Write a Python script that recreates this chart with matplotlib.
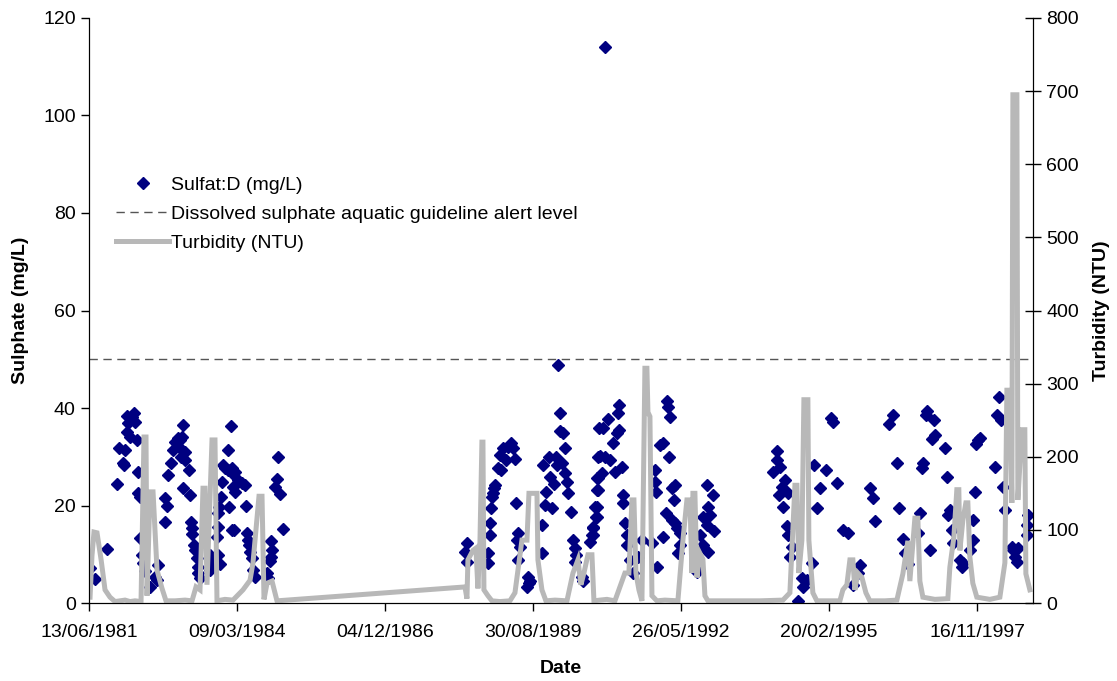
import numpy as np
import pandas as pd
import matplotlib
matplotlib.use("Agg")
import matplotlib.pyplot as plt

plt.rcParams["font.family"] = ["Liberation Sans", "DejaVu Sans"]

# Sulphate samples: decimal year, mg/L
sulf_year = [
    1981.464, 1981.557, 1981.779, 1981.964, 1982.001, 1982.112, 1982.075, 1982.093,
    1982.149, 1982.241, 1982.278, 1982.167, 1982.297, 1982.149, 1982.204, 1982.334,
    1982.352, 1982.352, 1982.389, 1982.389, 1982.426, 1982.445, 1982.574, 1982.667,
    1982.722, 1982.704, 1982.482,
    1982.852, 1982.889, 1982.852, 1982.907, 1982.963, 1983.000, 1983.037, 1983.092,
    1983.129, 1983.166, 1983.185, 1983.129, 1983.222, 1983.148, 1983.222, 1983.296,
    1983.185, 1983.314, 1983.332, 1983.351, 1983.351, 1983.388, 1983.406, 1983.443,
    1983.462, 1983.462, 1983.499, 1983.684, 1983.721, 1983.684,
    1984.072, 1984.017, 1983.924, 1983.961, 1984.017, 1984.091, 1983.906, 1984.109,
    1983.887, 1983.850, 1984.035, 1983.832, 1984.091, 1983.832, 1983.813, 1984.091,
    1984.146, 1984.202, 1984.276, 1984.331, 1984.146, 1984.350, 1984.128, 1984.368,
    1984.387, 1984.405, 1984.424, 1984.461, 1984.479, 1984.516, 1984.942, 1984.923,
    1984.886, 1984.979, 1985.034, 1984.812, 1984.831, 1984.812, 1984.794, 1984.738,
    1984.757, 1983.832, 1983.869,
    1988.437, 1988.400, 1988.437, 1988.826, 1988.826, 1988.862, 1988.862, 1988.881,
    1988.899, 1988.918, 1988.936, 1988.955, 1989.010, 1989.066, 1989.047, 1989.103,
    1989.158, 1989.195, 1989.251, 1989.288, 1989.325, 1989.343, 1989.362, 1989.380,
    1989.417, 1989.380, 1989.566, 1989.584, 1989.547, 1989.603, 1989.824, 1989.824,
    1989.843, 1989.898, 1989.880, 1989.954, 1990.009, 1990.046, 1989.972, 1990.083,
    1990.102, 1990.194, 1990.250, 1990.250, 1990.287, 1990.305, 1990.361, 1990.157,
    1990.157, 1990.213, 1990.120, 1990.398, 1990.435, 1990.453, 1990.435, 1990.564,
    1990.583, 1990.712, 1990.749, 1990.768, 1990.823, 1990.842, 1990.842, 1990.842,
    1990.860, 1990.879, 1990.989,
    1991.248, 1991.230, 1991.045, 1990.953, 1991.248, 1991.211, 1991.137, 1990.897,
    1990.989, 1991.082, 1991.174, 1991.304, 1990.934, 1990.860, 1990.860, 1991.322,
    1991.322, 1990.805, 1990.842, 1990.768, 1990.768, 1991.359, 1991.396, 1991.396,
    1991.674, 1991.600, 1991.507, 1991.452, 1991.951, 1991.859, 1992.062, 1992.136,
    1992.155, 1992.192, 1992.007, 1992.062, 1992.173, 1991.914, 1991.914, 1991.933,
    1992.229, 1992.284, 1992.266, 1992.118, 1992.229, 1992.284, 1992.321, 1992.377,
    1992.377, 1992.340, 1992.747, 1992.876, 1992.987, 1992.894, 1992.802, 1992.932,
    1992.876, 1993.006, 1992.802, 1992.747, 1992.894, 1992.691, 1992.691,
    1994.171, 1994.171, 1994.226, 1994.097, 1994.319, 1994.263, 1994.374, 1994.208,
    1994.282, 1994.356, 1994.374, 1994.448, 1994.411, 1994.633, 1994.726, 1994.652,
    1994.559, 1994.818, 1994.855, 1995.077, 1994.966, 1994.910, 1995.170, 1995.207,
    1995.281, 1995.391, 1995.484, 1995.706, 1995.669, 1995.576, 1995.891, 1995.946,
    1995.983, 1996.242,
    1996.316, 1996.390, 1996.427, 1996.501, 1996.538, 1996.593, 1996.945, 1996.926,
    1997.074, 1997.093, 1997.037, 1997.278, 1996.871, 1996.852, 1997.315, 1996.815,
    1996.778, 1997.000, 1997.370, 1997.333, 1997.407, 1997.426, 1997.555, 1997.610,
    1997.592, 1997.833, 1997.888, 1997.925, 1997.851, 1997.795, 1997.795, 1997.740,
    1998.276, 1998.239, 1998.313, 1998.202, 1998.350, 1998.388, 1998.536, 1998.573,
    1998.610, 1998.517, 1998.628, 1998.813, 1998.794, 1998.794,
]
sulf_mgl = [
    7.2, 4.9, 11.0, 24.4, 31.8, 31.4, 28.7, 28.3,
    38.4, 38.2, 39.0, 36.9, 37.1, 35.1, 34.0, 33.4,
    26.9, 22.6, 21.7, 13.3, 9.8, 8.2, 3.3, 5.3,
    7.8, 4.7, 6.5,
    21.5, 19.9, 16.6, 26.3, 28.7, 31.4, 33.0, 33.8,
    33.4, 34.0, 36.5, 31.8, 31.0, 29.9, 29.3, 27.3,
    23.6, 22.2, 16.6, 15.4, 14.2, 11.9, 10.9, 9.2,
    7.4, 6.2, 5.1, 9.8, 8.2, 6.8,
    36.3, 31.4, 28.3, 27.7, 27.3, 26.7, 24.8, 23.8,
    21.7, 19.7, 19.7, 18.5, 15.0, 15.6, 13.5, 27.7,
    26.9, 25.2, 24.6, 24.2, 22.8, 19.9, 15.0, 14.4,
    12.9, 11.9, 10.5, 9.2, 6.8, 5.3, 29.9, 25.4,
    23.8, 22.4, 15.2, 12.7, 10.9, 9.4, 8.6, 6.2,
    5.1, 9.8, 8.0,
    12.3, 10.5, 8.4, 10.3, 8.2, 13.9, 16.4, 19.5,
    21.7, 22.6, 23.6, 24.2, 27.7, 27.3, 30.4, 31.8,
    29.3, 32.0, 32.8, 31.8, 29.5, 20.5, 12.9, 14.4,
    11.5, 8.8, 5.3, 4.1, 3.3, 4.6, 10.3, 16.0,
    28.3, 22.8, 20.1, 29.9, 19.5, 24.4, 25.8, 29.9,
    28.3, 28.7, 31.8, 26.7, 24.8, 22.6, 18.7, 39.0,
    35.3, 34.9, 48.8, 12.9, 11.3, 9.8, 8.4, 5.3,
    4.6, 12.5, 13.9, 15.4, 17.6, 19.7, 23.2, 25.6,
    29.9, 35.9, 114.0,
    40.6, 39.0, 37.7, 35.9, 35.5, 34.9, 32.8, 30.2,
    29.9, 29.3, 26.9, 27.9, 26.7, 25.6, 23.2, 22.2,
    20.5, 19.7, 17.6, 15.6, 13.9, 16.4, 13.9, 11.9,
    12.9, 9.4, 6.2, 8.8, 7.4, 12.3, 13.5, 41.4,
    40.2, 38.2, 32.4, 32.8, 29.9, 27.3, 24.8, 22.8,
    23.6, 24.2, 21.1, 18.5, 17.0, 16.4, 15.4, 14.4,
    11.9, 10.3, 13.9, 24.2, 22.2, 19.7, 17.6, 18.0,
    16.0, 14.8, 11.9, 11.3, 10.5, 7.4, 6.4,
    31.2, 29.3, 27.9, 26.9, 25.2, 23.8, 22.6, 22.2,
    19.7, 15.8, 13.9, 11.5, 9.4, 5.1, 4.7, 3.3,
    0.4, 8.2, 28.3, 27.3, 23.6, 19.5, 37.9, 37.1,
    24.6, 15.0, 14.4, 7.8, 6.2, 3.7, 23.6, 21.5,
    16.8, 36.7,
    38.6, 28.7, 19.5, 13.1, 10.3, 8.0, 39.4, 38.6,
    37.5, 34.5, 33.6, 31.8, 28.7, 27.7, 25.8, 18.5,
    14.4, 10.9, 19.1, 18.0, 15.0, 12.3, 8.8, 8.2,
    7.4, 22.8, 33.4, 33.8, 32.6, 17.0, 12.9, 10.9,
    42.3, 38.6, 37.5, 27.9, 23.8, 19.1, 10.9, 9.4,
    8.4, 11.5, 11.2, 18.0, 13.9, 16.0,
]

# Turbidity series: decimal year, NTU
turb_year = [
    1981.465, 1981.501, 1981.538, 1981.594, 1981.668, 1981.742, 1981.834, 1981.927,
    1982.019, 1982.112, 1982.204, 1982.297, 1982.408, 1982.463, 1982.500, 1982.519,
    1982.574, 1982.630, 1982.704, 1982.796, 1982.870, 1983.037, 1983.222, 1983.351,
    1983.425, 1983.499, 1983.554, 1983.591, 1983.628, 1983.721, 1983.776, 1983.813,
    1983.961, 1984.109, 1984.294, 1984.424, 1984.479, 1984.590, 1984.646, 1984.683,
    1984.738, 1984.831, 1984.923,
    1988.400, 1988.437, 1988.455, 1988.548, 1988.603, 1988.640, 1988.677, 1988.714,
    1988.733, 1988.751, 1988.825, 1988.899, 1989.047, 1989.232, 1989.325, 1989.380,
    1989.454, 1989.547, 1989.584, 1989.732, 1989.750, 1989.824, 1989.898, 1990.065,
    1990.287, 1990.398, 1990.490, 1990.545, 1990.601, 1990.675, 1990.749, 1990.786,
    1990.897, 1991.026, 1991.174, 1991.359, 1991.433, 1991.489, 1991.526, 1991.563,
    1991.618, 1991.674, 1991.729, 1991.766, 1991.785, 1991.822, 1991.859, 1991.951,
    1992.099, 1992.339, 1992.432, 1992.506, 1992.562, 1992.599, 1992.617, 1992.654,
    1992.691, 1992.747, 1992.802, 1992.839, 1992.894, 1993.116, 1993.486, 1993.856,
    1994.282, 1994.411, 1994.504, 1994.541, 1994.577, 1994.633, 1994.670, 1994.744,
    1994.762, 1994.836, 1994.910, 1995.151, 1995.336, 1995.391, 1995.465, 1995.521,
    1995.576, 1995.613, 1995.669, 1995.743, 1995.817, 1995.890, 1996.168, 1996.390,
    1996.501, 1996.593, 1996.630, 1996.723, 1996.778, 1996.815, 1996.871, 1997.093,
    1997.333, 1997.370, 1997.444, 1997.499, 1997.536, 1997.555, 1997.610, 1997.666,
    1997.703, 1997.740, 1997.795, 1997.869, 1998.110, 1998.295, 1998.388, 1998.425,
    1998.480, 1998.517, 1998.536, 1998.610, 1998.628, 1998.702, 1998.757, 1998.776,
    1998.850,
]
turb_ntu = [
    8, 65, 97, 96, 60, 18, 8, 2,
    3, 4, 2, 3, 2, 227, 227, 10,
    152, 152, 45, 20, 3, 3, 4, 3,
    22, 18, 157, 157, 25, 223, 223, 3,
    5, 4, 18, 31, 55, 146, 146, 5,
    27, 30, 3,
    22, 6, 59, 72, 75, 20, 82, 220,
    220, 18, 10, 3, 2, 3, 14, 45,
    86, 86, 150, 150, 59, 18, 3, 4,
    3, 41, 59, 25, 41, 66, 66, 3,
    4, 5, 3, 41, 41, 141, 141, 41,
    18, 3, 321, 321, 261, 255, 10, 3,
    4, 3, 86, 141, 141, 41, 150, 150,
    35, 68, 60, 10, 3, 3, 3, 3,
    4, 14, 161, 161, 41, 86, 278, 278,
    86, 14, 3, 3, 3, 18, 25, 59,
    59, 18, 41, 35, 14, 3, 3, 4,
    40, 85, 30, 116, 116, 30, 8, 5,
    6, 49, 90, 155, 155, 72, 113, 137,
    137, 63, 27, 8, 5, 8, 55, 291,
    291, 137, 695, 695, 141, 237, 237, 40,
    18,
]

guideline = 50  # mg/L alert level

start = pd.Timestamp("1981-06-13")
start_dec = 1981.446


def to_days(years):
    return (np.asarray(years) - start_dec) * 365.25


fig = plt.figure(figsize=(11.17, 6.81), dpi=100)
ax = fig.add_axes([0.0797, 0.1145, 0.8451, 0.8591])
ax2 = ax.twinx()

sc, = ax.plot(to_days(sulf_year), sulf_mgl, linestyle="none", marker="D",
              markersize=6, color="#000080", label="Sulfat:D (mg/L)")
gl = ax.axhline(guideline, color="#555555", linestyle=(0, (6, 4)), linewidth=1,
                label="Dissolved sulphate aquatic guideline alert level")
tl, = ax2.plot(to_days(turb_year), turb_ntu, color="#b8b8b8", linewidth=3.6,
               solid_joinstyle="miter", label="Turbidity (NTU)")

xmax = 6378
ax.set_xlim(0, xmax)
ax.set_ylim(0, 120)
ax2.set_ylim(0, 800)
ax.set_yticks(range(0, 121, 20))
ax2.set_yticks(range(0, 801, 100))

tick_days = list(range(0, 6001, 1000))
ax.set_xticks(tick_days)
ax.set_xticklabels([(start + pd.Timedelta(days=d)).strftime("%d/%m/%Y") for d in tick_days])

for a in (ax, ax2):
    a.spines["top"].set_visible(False)
ax.tick_params(axis="both", labelsize=14, direction="out", length=6, width=1)
ax2.tick_params(axis="y", labelsize=14, direction="inout", length=12, width=1)
ax.tick_params(axis="x", pad=9)

ax.set_xlabel("Date", fontsize=14, fontweight="bold", labelpad=14)
ax.set_ylabel("Sulphate (mg/L)", fontsize=14, fontweight="bold", labelpad=10)
ax2.set_ylabel("Turbidity (NTU)", fontsize=14, fontweight="bold", labelpad=10)

ax2.legend(handles=[sc, gl, tl], loc="upper left", bbox_to_anchor=(0.029, 0.730),
           frameon=False, fontsize=14, handlelength=2.7, handletextpad=0.1,
           labelspacing=0.6, borderpad=0, borderaxespad=0)

plt.savefig("out.png", dpi=100)
